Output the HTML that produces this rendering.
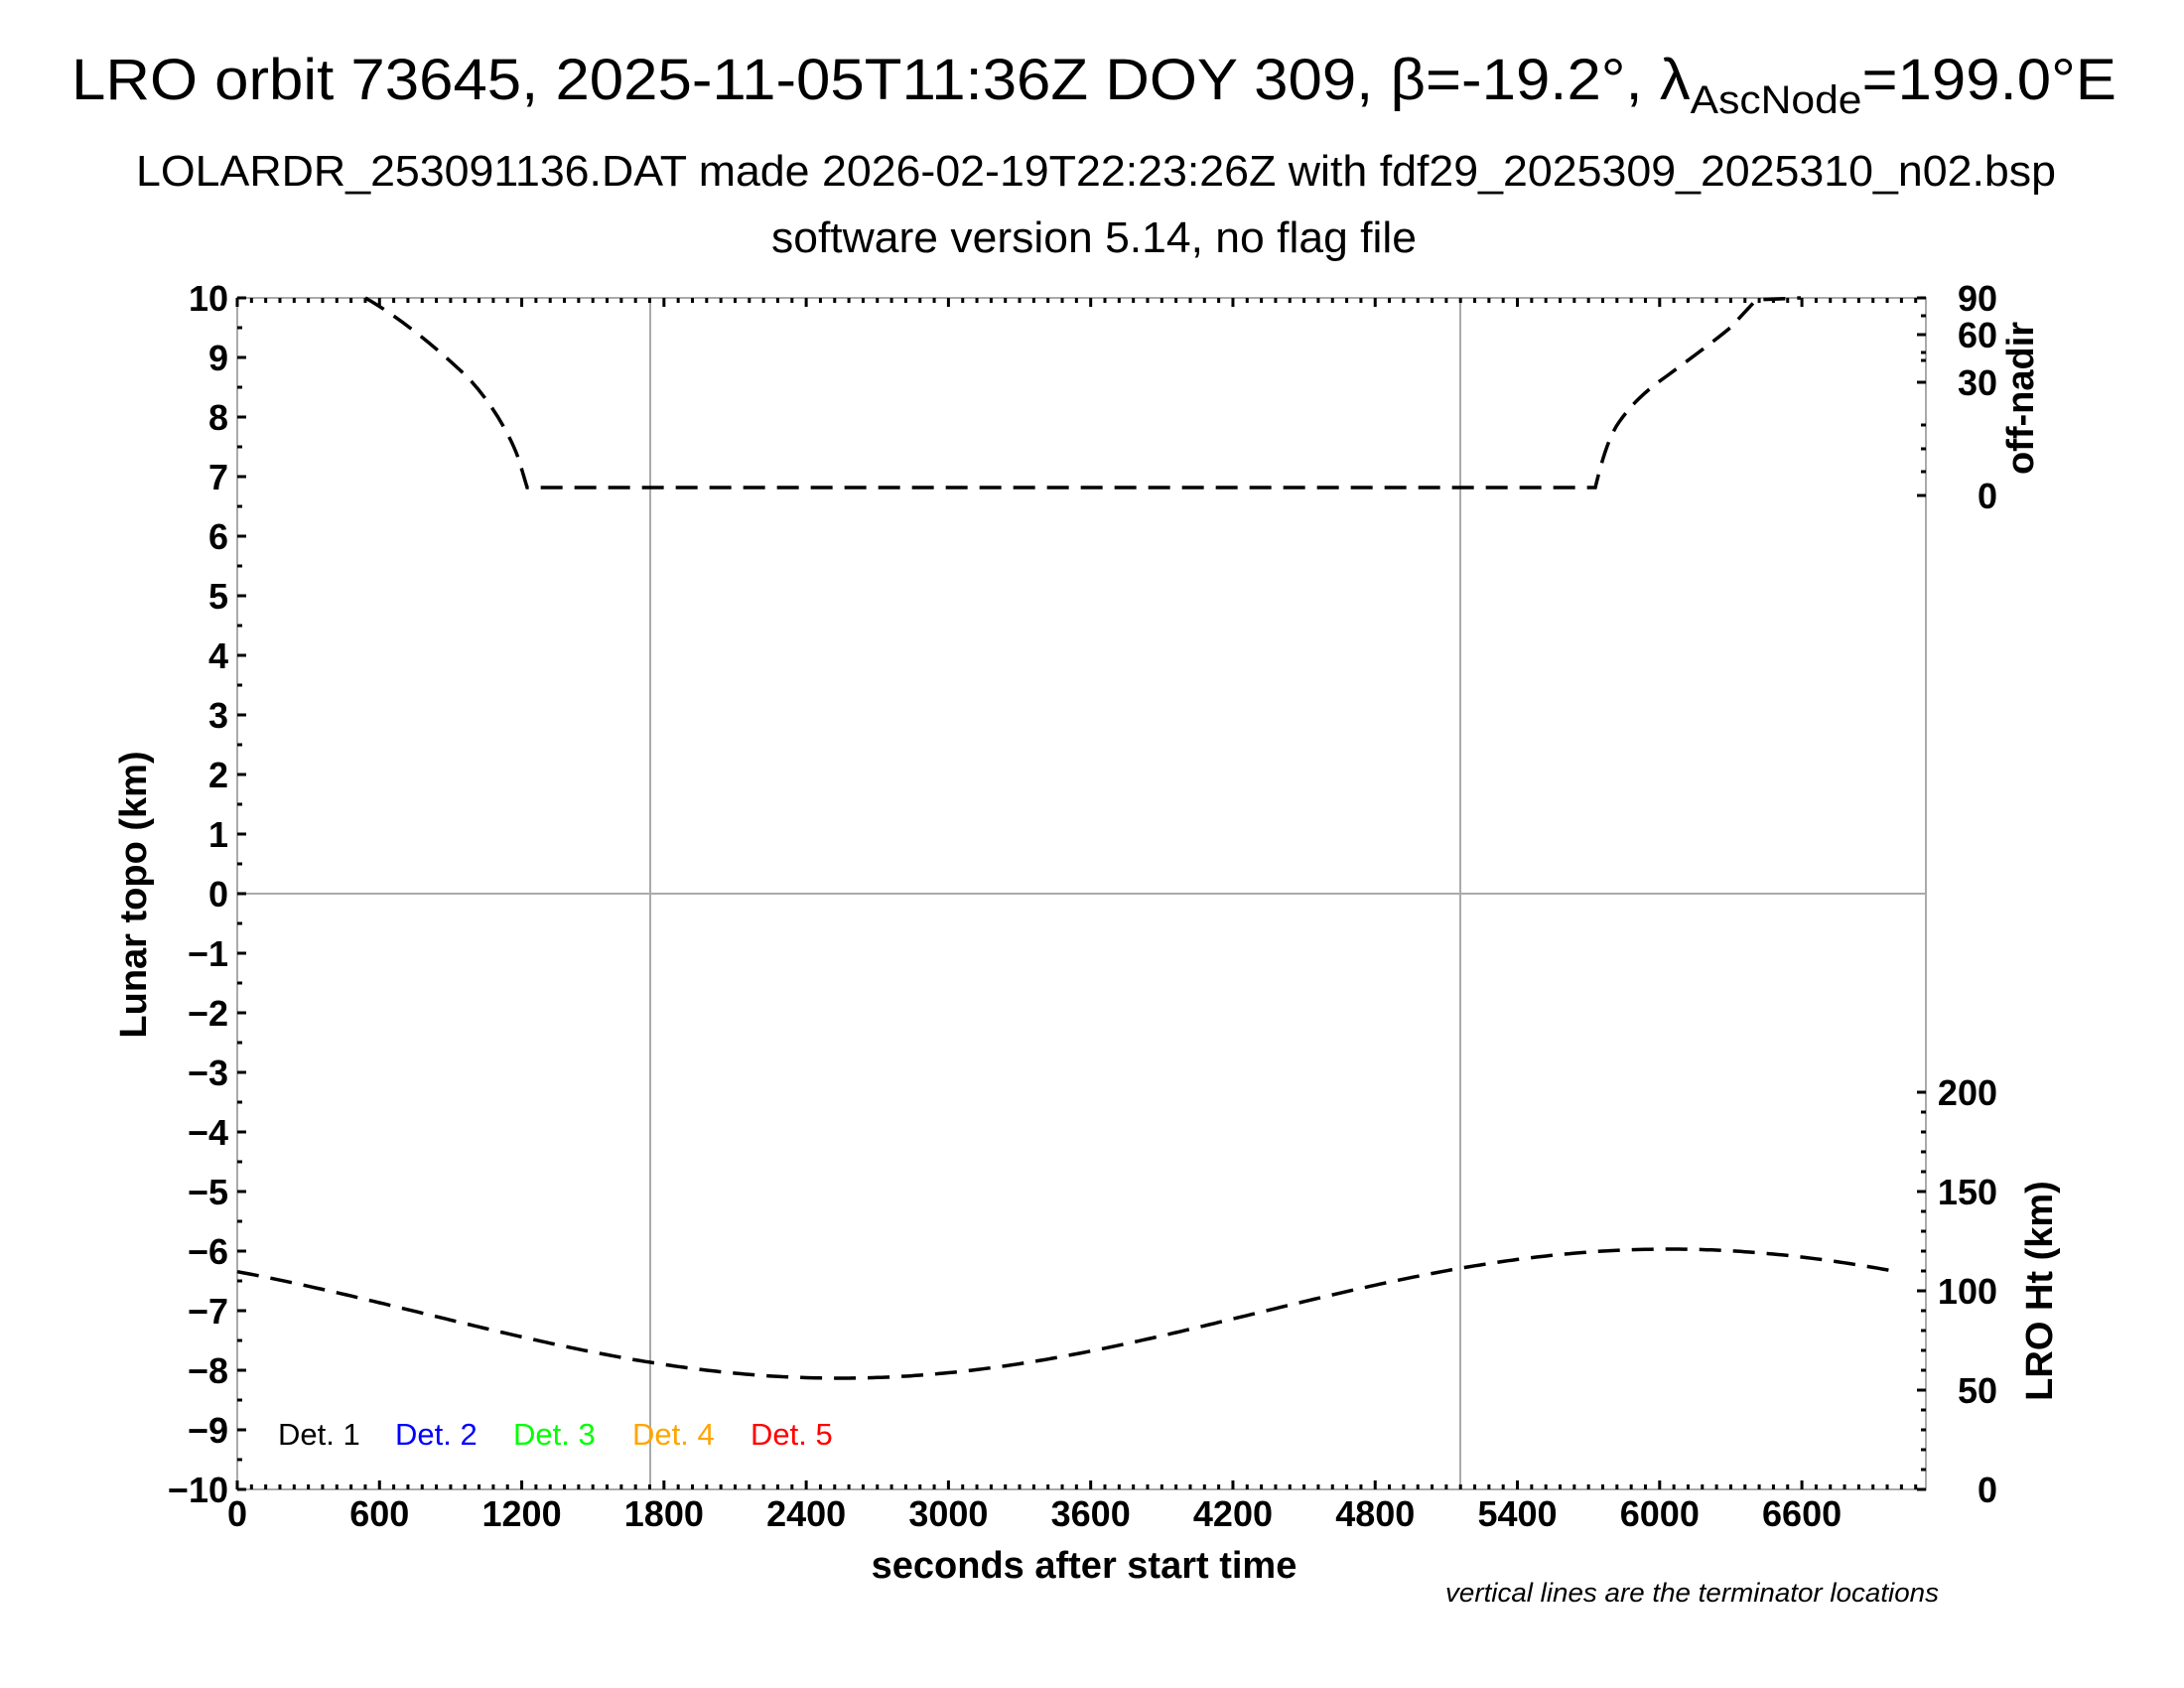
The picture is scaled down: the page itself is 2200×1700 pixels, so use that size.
<!DOCTYPE html>
<html><head><meta charset="utf-8"><style>
html,body{margin:0;padding:0;background:#fff;}
svg{display:block;}
text{font-family:"Liberation Sans",sans-serif;}
</style></head><body>
<svg id="s" width="2200" height="1700" xmlns="http://www.w3.org/2000/svg">
<rect width="2200" height="1700" fill="#fff"/>
<text x="1102" y="100" font-size="58" text-anchor="middle" textLength="2060" lengthAdjust="spacingAndGlyphs">LRO orbit 73645, 2025-11-05T11:36Z DOY 309, β=-19.2°, λ<tspan font-size="40" dy="14">AscNode</tspan><tspan dy="-14">=199.0°E</tspan></text>
<text x="1104" y="187" font-size="44" text-anchor="middle" textLength="1934" lengthAdjust="spacingAndGlyphs">LOLARDR_253091136.DAT made 2026-02-19T22:23:26Z with fdf29_2025309_2025310_n02.bsp</text>
<text x="1102" y="254" font-size="44" text-anchor="middle" textLength="650" lengthAdjust="spacingAndGlyphs">software version 5.14, no flag file</text>
<g id="axes" stroke="#aaa" stroke-width="2" fill="none">
<rect x="239" y="300" width="1701" height="1200"/>
<line x1="239" y1="900" x2="1940" y2="900"/>
<line x1="655" y1="300" x2="655" y2="1500"/>
<line x1="1471" y1="300" x2="1471" y2="1500"/>
</g>
<g id="ticks" stroke="#000" stroke-width="3"></g>
<g id="labels" font-weight="bold" font-size="36"></g>
<path d="M368,300 C400,318 440,350 471,380 C495,405 515,440 523,464 L531,491 L1607,491 C1612,470 1620,440 1631,425 C1645,405 1660,392 1680,378 C1700,363 1725,345 1743,330 L1769,302 L1814,300" fill="none" stroke="#000" stroke-width="3.5" stroke-dasharray="22,12"/>
<path id="ht" fill="none" stroke="#000" stroke-width="3.5" stroke-dasharray="22,12"/>
<g font-size="31">
<text x="280" y="1455">Det. 1</text>
<text x="398" y="1455" fill="#0000ff">Det. 2</text>
<text x="517" y="1455" fill="#00ff00">Det. 3</text>
<text x="637" y="1455" fill="#ffa500">Det. 4</text>
<text x="756" y="1455" fill="#ff0000">Det. 5</text>
</g>
<text x="1092" y="1589" font-size="38" font-weight="bold" text-anchor="middle">seconds after start time</text>
<text x="1953" y="1613" font-size="27" font-style="italic" text-anchor="end" textLength="497" lengthAdjust="spacingAndGlyphs">vertical lines are the terminator locations</text>
<text transform="translate(147,901) rotate(-90)" font-size="38" font-weight="bold" text-anchor="middle">Lunar topo (km)</text>
<text transform="translate(2048,401) rotate(-90)" font-size="38" font-weight="bold" text-anchor="middle">off-nadir</text>
<text transform="translate(2067,1300) rotate(-90)" font-size="38" font-weight="bold" text-anchor="middle">LRO Ht (km)</text>
</svg>
<script>
var NS="http://www.w3.org/2000/svg";
function el(p,n,a,t){var e=document.createElementNS(NS,n);for(var k in a)e.setAttribute(k,a[k]);if(t!=null)e.textContent=t;p.appendChild(e);return e;}
var T=document.getElementById('ticks'),L=document.getElementById('labels');
var x0=239,x1=1940,y0=300,y1=1500,px=0.2388;
for(var s=0;s*px<=1701;s+=60){var x=x0+s*px;var len=(s%600==0)?9:5;
 el(T,'line',{x1:x,y1:y1,x2:x,y2:y1-len});el(T,'line',{x1:x,y1:y0,x2:x,y2:y0+len});
 if(s%600==0&&s<=6600)el(L,'text',{x:x,y:1537,'text-anchor':'middle'},String(s));}
for(var v=-10;v<=10;v+=0.5){var y=900-v*60;var maj=(v%1==0);
 el(T,'line',{x1:x0,y1:y,x2:x0+(maj?9:5),y2:y});
 if(maj)el(L,'text',{x:230,y:y+13,'text-anchor':'end'},(v<0?'\u2212'+(-v):String(v)));}
for(var h=0;h<=200;h+=10){var y=1500-h*2;el(T,'line',{x1:x1,y1:y,x2:x1-(h%50==0?9:5),y2:y});
 if(h%50==0)el(L,'text',{x:2012,y:y+13,'text-anchor':'end'},String(h));}
[[300,'90'],[337,'60'],[385,'30'],[499,'0']].forEach(function(a){el(T,'line',{x1:x1,y1:a[0],x2:x1-9,y2:a[0]});
 el(L,'text',{x:2012,y:a[0]+13,'text-anchor':'end'},a[1]);});
[318,355,363,428,452,475].forEach(function(y){el(T,'line',{x1:x1,y1:y,x2:x1-5,y2:y});});
var d='';for(var t=0;t<=6993;t+=20){var x=x0+t*px;var y=1323+65*Math.cos(2*Math.PI*(t-2540)/7000);d+=(t?'L':'M')+x.toFixed(1)+','+y.toFixed(1);}
document.getElementById('ht').setAttribute('d',d);
</script>
</body></html>
